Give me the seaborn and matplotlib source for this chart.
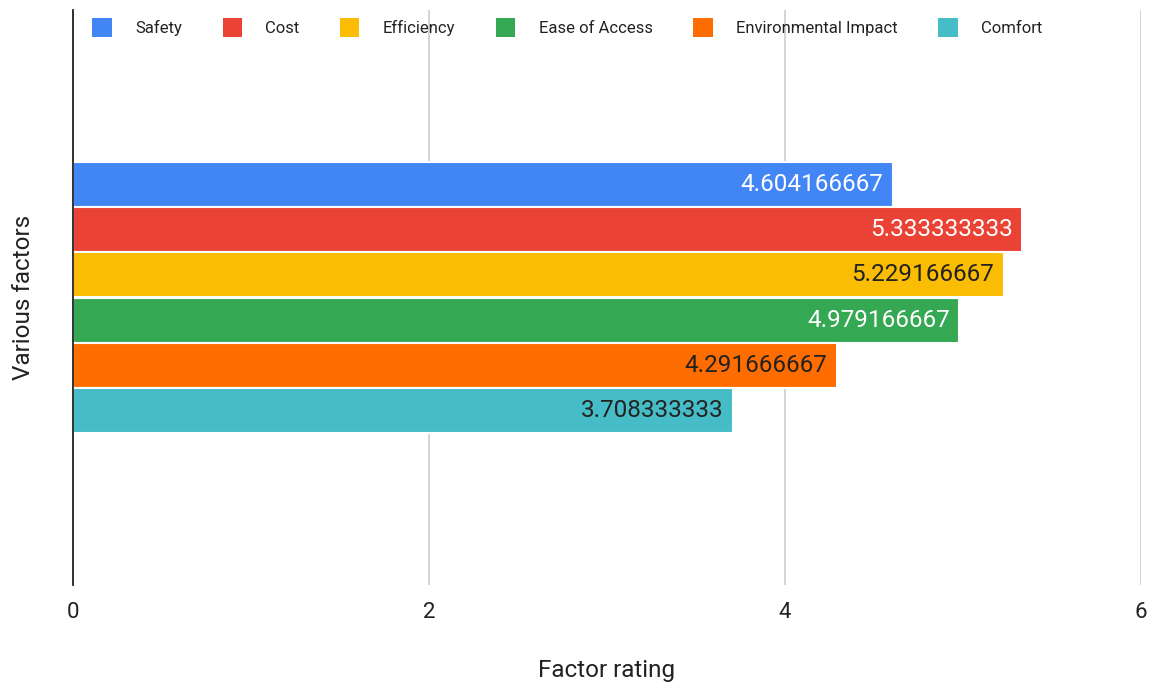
import matplotlib
matplotlib.use("Agg")
import matplotlib.pyplot as plt
import seaborn as sns
import pandas as pd
from matplotlib.patches import Patch

factors = ["Safety", "Cost", "Efficiency", "Ease of Access", "Environmental Impact", "Comfort"]
ratings = [4.604166667, 5.333333333, 5.229166667, 4.979166667, 4.291666667, 3.708333333]
labels = ["4.604166667", "5.333333333", "5.229166667", "4.979166667", "4.291666667", "3.708333333"]
colors = ["#4285F4", "#EA4335", "#FBBC04", "#34A853", "#FF6D01", "#46BDC6"]
label_colors = ["white", "white", "#222222", "white", "#222222", "#222222"]
xticks = [0, 2, 4, 6]

sns.set_theme(style="white")
plt.rcParams["font.family"] = ["Roboto", "DejaVu Sans"]

df = pd.DataFrame({"group": ["All"] * len(factors), "factor": factors, "rating": ratings})

fig = plt.figure(figsize=(11.51, 6.82), dpi=100)
ax = fig.add_axes([73 / 1151, 97 / 682, (1141 - 73) / 1151, 575 / 682])

sns.barplot(data=df, y="group", x="rating", hue="factor", hue_order=factors,
            palette=colors, saturation=1, orient="h", width=0.47, ax=ax, legend=False,
            edgecolor="white", linewidth=1.5)

for cont, lab, lc in zip(ax.containers, labels, label_colors):
    ax.bar_label(cont, labels=[lab], padding=-7, color=lc, fontsize=17.5, label_type="edge")
    ax.texts[-1].set_ha("right")

ax.set_xlim(0, 6)
ax.set_ylim(0.5, -0.5)
ax.set_xticks(xticks)
ax.set_xticklabels([str(x) for x in xticks], fontsize=16, color="#222222")
ax.tick_params(axis="x", length=0, pad=12)
ax.set_yticks([])
ax.grid(axis="x", color="#cccccc", linewidth=1.2)
ax.set_axisbelow(True)
for s in ["top", "right", "bottom"]:
    ax.spines[s].set_visible(False)
ax.spines["left"].set_color("#222222")
ax.spines["left"].set_linewidth(1.3)

ax.set_xlabel("Factor rating", fontsize=17.5, color="#222222", labelpad=26)
ax.set_ylabel("Various factors", fontsize=17.5, color="#222222", labelpad=27)

handles = [Patch(facecolor=c, edgecolor="none") for c in colors]
leg = ax.legend(handles, factors, loc="upper left", bbox_to_anchor=(0.012, 0.998),
                ncol=6, frameon=False, fontsize=12, handlelength=1.15, handleheight=1.4,
                handletextpad=1.4, columnspacing=2.45, borderaxespad=0)
for t in leg.get_texts():
    t.set_color("#222222")

fig.savefig("out.png", dpi=100)
